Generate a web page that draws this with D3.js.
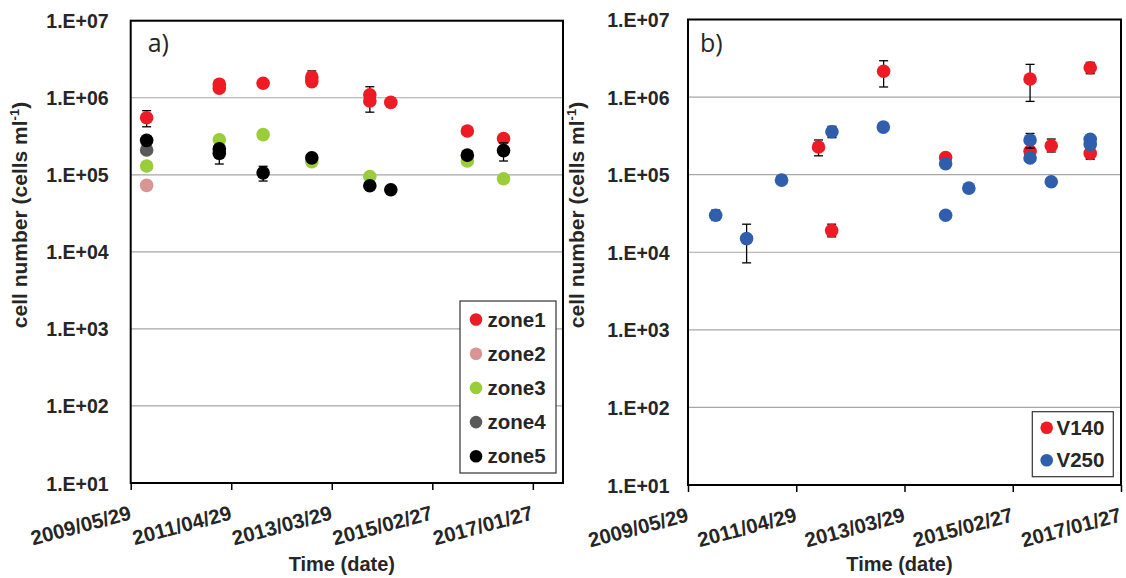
<!DOCTYPE html>
<html>
<head>
<meta charset="utf-8">
<script src="https://cdn.jsdelivr.net/npm/d3@7"></script>
<style>
  html, body { margin: 0; padding: 0; background: #fff; }
  svg { display: block; }
</style>
</head>
<body>
<svg id="chart" width="1126" height="578"></svg>
<script>
// ---------- DATA ----------
const xTickLabels = ["2009/05/29", "2011/04/29", "2013/03/29", "2015/02/27", "2017/01/27"];
const yTickValues = [1e1, 1e2, 1e3, 1e4, 1e5, 1e6, 1e7];
const leftXEnd = "2017/08/25";
const rightXEnd = "2017/01/27";

// each row: [date, value, errLow, errHigh]  (null = no error bar)
const zone1 = [
  ["2009/09/17", 5.5e5, 4.2e5, 6.8e5],
  ["2011/02/05", 1.5e6, null, null],
  ["2011/02/05", 1.33e6, null, null],
  ["2011/12/07", 1.54e6, null, null],
  ["2012/11/10", 1.85e6, 1.47e6, 2.23e6],
  ["2012/11/10", 1.62e6, null, null],
  ["2013/12/19", 1.09e6, 8.0e5, 1.39e6],
  ["2013/12/19", 9.1e5, 6.5e5, 1.17e6],
  ["2014/05/14", 8.7e5, null, null],
  ["2015/10/29", 3.7e5, null, null],
  ["2016/07/07", 2.95e5, null, null]
];
const zone2 = [
  ["2009/09/17", 7.3e4, null, null]
];
const zone3 = [
  ["2009/09/17", 1.3e5, null, null],
  ["2011/02/05", 2.84e5, null, null],
  ["2011/12/07", 3.32e5, null, null],
  ["2012/11/10", 1.48e5, null, null],
  ["2013/12/19", 9.5e4, null, null],
  ["2015/10/29", 1.51e5, null, null],
  ["2016/07/07", 8.9e4, null, null]
];
const zone4 = [
  ["2009/09/17", 2.1e5, null, null]
];
const zone5 = [
  ["2009/09/17", 2.8e5, null, null],
  ["2011/02/05", 2.17e5, null, null],
  ["2011/02/05", 1.9e5, 1.38e5, 2.42e5],
  ["2011/12/07", 1.06e5, 8.3e4, 1.29e5],
  ["2012/11/10", 1.66e5, null, null],
  ["2013/12/19", 7.2e4, null, null],
  ["2014/05/14", 6.4e4, null, null],
  ["2015/10/29", 1.8e5, null, null],
  ["2016/07/07", 2.06e5, 1.51e5, 2.6e5]
];
const v140 = [
  ["2011/09/20", 2.27e5, 1.75e5, 2.8e5],
  ["2011/12/14", 1.9e4, 1.58e4, 2.3e4],
  ["2012/11/14", 2.15e6, 1.35e6, 2.94e6],
  ["2013/12/20", 1.66e5, null, null],
  ["2015/06/19", 1.71e6, 8.8e5, 2.64e6],
  ["2015/06/19", 2.0e5, null, null],
  ["2015/11/03", 2.36e5, 1.96e5, 2.88e5],
  ["2016/07/12", 2.39e6, 2.0e6, 2.8e6],
  ["2016/07/12", 1.88e5, 1.58e5, 2.2e5]
];
const v250 = [
  ["2009/11/24", 3.0e4, 2.6e4, 3.5e4],
  ["2010/06/12", 1.5e4, 7.3e3, 2.3e4],
  ["2011/01/24", 8.5e4, null, null],
  ["2011/12/16", 3.58e5, 3.0e5, 4.2e5],
  ["2012/11/12", 4.1e5, null, null],
  ["2013/12/20", 1.38e5, null, null],
  ["2013/12/20", 3.0e4, null, null],
  ["2014/05/19", 6.7e4, null, null],
  ["2015/06/19", 2.8e5, 2.2e5, 3.4e5],
  ["2015/06/19", 1.64e5, null, null],
  ["2015/11/03", 8.1e4, null, null],
  ["2016/07/12", 2.86e5, null, null],
  ["2016/07/12", 2.46e5, null, null]
];

const leftSeries = [
  { name: "zone1", data: zone1, color: "#ED1C24" },
  { name: "zone2", data: zone2, color: "#D99594" },
  { name: "zone3", data: zone3, color: "#9ACD3A" },
  { name: "zone4", data: zone4, color: "#595959" },
  { name: "zone5", data: zone5, color: "#000000" }
];
const rightSeries = [
  { name: "V140", data: v140, color: "#ED1C24" },
  { name: "V250", data: v250, color: "#2F5EAD" }
];

// ---------- DRAW ----------
const parse = d3.utcParse("%Y/%m/%d");
const fmt = d3.utcFormat("%Y/%m/%d");
const svg = d3.select("#chart");
const FONT = "'Liberation Sans', Arial, sans-serif";
const TXT = "#262626";

function panel(cfg) {
  const g = svg.append("g");
  const x = d3.scaleUtc()
    .domain([parse(xTickLabels[0]), parse(cfg.xEnd)])
    .range([cfg.left, cfg.right]);
  const y = d3.scaleLog().domain([1e1, 1e7]).range([cfg.bottom, cfg.top]);

  // gridlines
  g.append("g").selectAll("line").data(yTickValues).join("line")
    .attr("x1", cfg.left).attr("x2", cfg.right)
    .attr("y1", d => y(d)).attr("y2", d => y(d))
    .attr("stroke", "#A6A6A6").attr("stroke-width", 1.2);

  // y axis labels
  const ya = g.append("g").attr("transform", `translate(${cfg.left},0)`)
    .call(d3.axisLeft(y).tickValues(yTickValues).tickSize(0).tickPadding(cfg.yGap)
      .tickFormat(d => "1.E+" + String(Math.round(Math.log10(d))).padStart(2, "0")));
  ya.select(".domain").remove();
  ya.selectAll("text").attr("font-family", FONT).attr("font-weight", "bold")
    .attr("font-size", 19.5).attr("fill", TXT).attr("dy", "0.36em");

  // x axis
  const xa = g.append("g").attr("transform", `translate(0,${cfg.bottom})`)
    .call(d3.axisBottom(x).tickValues(xTickLabels.map(parse)).tickSize(7).tickFormat(fmt));
  xa.select(".domain").remove();
  xa.selectAll(".tick line").attr("stroke", "#000").attr("stroke-width", 1.5);
  xa.selectAll("text")
    .attr("x", 0).attr("y", 0).attr("dy", 0)
    .attr("text-anchor", "end")
    .attr("transform", "translate(1,36) rotate(-15)")
    .attr("font-family", FONT).attr("font-weight", "bold")
    .attr("font-size", 20.5).attr("fill", TXT);

  // series: error bars then markers
  cfg.series.forEach(s => {
    const sg = g.append("g");
    const withErr = s.data.filter(d => d[2] !== null);
    const eg = sg.append("g").attr("stroke", "#000").attr("stroke-width", 1.3);
    eg.selectAll("line.v").data(withErr).join("line").attr("class", "v")
      .attr("x1", d => x(parse(d[0]))).attr("x2", d => x(parse(d[0])))
      .attr("y1", d => y(d[2])).attr("y2", d => y(d[3]));
    eg.selectAll("line.lo").data(withErr).join("line").attr("class", "lo")
      .attr("x1", d => x(parse(d[0])) - 4.5).attr("x2", d => x(parse(d[0])) + 4.5)
      .attr("y1", d => y(d[2])).attr("y2", d => y(d[2]));
    eg.selectAll("line.hi").data(withErr).join("line").attr("class", "hi")
      .attr("x1", d => x(parse(d[0])) - 4.5).attr("x2", d => x(parse(d[0])) + 4.5)
      .attr("y1", d => y(d[3])).attr("y2", d => y(d[3]));
    sg.append("g").selectAll("circle").data(s.data).join("circle")
      .attr("cx", d => x(parse(d[0]))).attr("cy", d => y(d[1]))
      .attr("r", 6.8).attr("fill", s.color);
  });

  // plot border
  g.append("rect")
    .attr("x", cfg.left).attr("y", cfg.top)
    .attr("width", cfg.right - cfg.left).attr("height", cfg.bottom - cfg.top)
    .attr("fill", "none").attr("stroke", "#000").attr("stroke-width", 2);

  // panel letter
  g.append("text").attr("x", cfg.left + cfg.letterDx).attr("y", 52)
    .attr("font-family", "'Open Sans', 'Liberation Sans', sans-serif")
    .attr("font-size", 25).attr("fill", TXT).text(cfg.letter);

  // axis titles
  g.append("text").attr("x", (cfg.left + cfg.right) / 2 - 5).attr("y", 571)
    .attr("text-anchor", "middle").attr("font-family", FONT).attr("font-weight", "bold")
    .attr("font-size", 20).attr("fill", TXT).text("Time (date)");

  const yt = g.append("text")
    .attr("transform", `translate(${cfg.left - 104},215) rotate(-90)`)
    .attr("text-anchor", "middle").attr("font-family", FONT).attr("font-weight", "bold")
    .attr("font-size", 21).attr("fill", TXT);
  yt.append("tspan").text("cell number (cells ml");
  yt.append("tspan").attr("font-size", 13).attr("dy", -8).text("-1");
  yt.append("tspan").attr("dy", 8).text(")");

  // legend
  const L = cfg.legend;
  const lg = g.append("g");
  lg.append("rect").attr("x", L.x).attr("y", L.y).attr("width", L.w).attr("height", L.h)
    .attr("fill", "#fff").attr("stroke", "#333").attr("stroke-width", 1.2);
  const items = lg.selectAll("g.item").data(cfg.series).join("g").attr("class", "item")
    .attr("transform", (d, i) => `translate(${L.x},${L.y + L.first + i * L.step})`);
  items.append("circle").attr("cx", L.mx).attr("cy", 0).attr("r", 6.3).attr("fill", d => d.color);
  items.append("text").attr("x", L.tx).attr("y", 0).attr("dy", "0.35em")
    .attr("font-family", FONT).attr("font-weight", "bold").attr("font-size", 20.5)
    .attr("fill", TXT).text(d => d.name);
}

panel({
  left: 130.7, right: 563, top: 20.7, bottom: 483, xEnd: leftXEnd, yGap: 22,
  series: leftSeries, letter: "a)", letterDx: 17,
  legend: { x: 460, y: 301, w: 96, h: 172, first: 18.5, step: 34.2, mx: 16, tx: 27.5 }
});
panel({
  left: 688, right: 1121, top: 19.5, bottom: 485, xEnd: rightXEnd, yGap: 18.5,
  series: rightSeries, letter: "b)", letterDx: 12,
  legend: { x: 1032.3, y: 411.7, w: 81, h: 65, first: 16, step: 32.6, mx: 14.4, tx: 24.2 }
});
</script>
</body>
</html>
